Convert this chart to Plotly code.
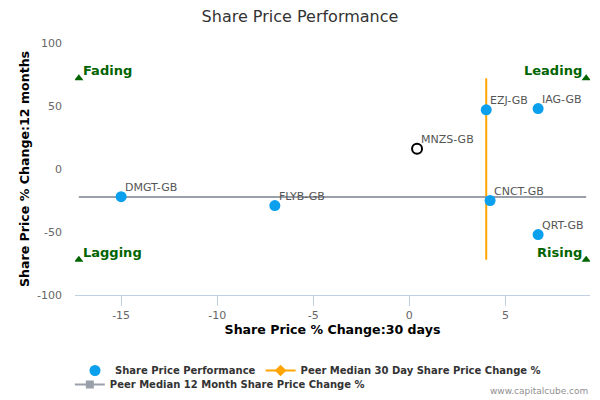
import plotly.graph_objects as go

# ==============================
# DATA
# ==============================
tickers = ["DMGT-GB", "FLYB-GB", "EZJ-GB", "IAG-GB", "CNCT-GB", "QRT-GB"]
chg_30d = [-15.0, -7.0, 4.0, 6.7, 4.2, 6.7]
chg_12m = [-22, -29, 47, 48, -25, -52]

subject = ["MNZS-GB"]
subject_30d = [0.4]
subject_12m = [16]

median_30d = 4.0
median_12m = -22.3

# quadrant corners (where the marker triangles sit)
corner_x = [-17.2, 9.2]
corner_y = [-72, 72]
quadrants = ["Lagging", "Fading", "Rising", "Leading"]

x_ticks = [-15, -10, -5, 0, 5]
y_ticks = [-100, -50, 0, 50, 100]

FONT = "DejaVu Sans"
GREEN = "#006400"

fig = go.Figure()

# peer median lines
fig.add_trace(go.Scatter(
    x=[median_30d, median_30d], y=corner_y, mode="lines",
    line=dict(color="#FFA500", width=2), showlegend=False, hoverinfo="skip"
))
fig.add_trace(go.Scatter(
    x=corner_x, y=[median_12m, median_12m], mode="lines",
    line=dict(color="#9AA0AA", width=2), showlegend=False, hoverinfo="skip"
))

# peers
fig.add_trace(go.Scatter(
    x=chg_30d, y=chg_12m, mode="markers",
    marker=dict(color="#0AA0EE", size=11),
    name="Share Price Performance"
))

# subject company
fig.add_trace(go.Scatter(
    x=subject_30d, y=subject_12m, mode="markers",
    marker=dict(color="white", size=10, line=dict(color="black", width=2)),
    showlegend=False
))

# point labels
for px_, py_, label in zip(chg_30d + subject_30d, chg_12m + subject_12m, tickers + subject):
    fig.add_annotation(
        x=px_, y=py_, text=label, showarrow=False,
        xanchor="left", yanchor="middle", xshift=2, yshift=9,
        font=dict(family=FONT, size=11, color="#555")
    )

# legend-only entries for the median lines
fig.add_trace(go.Scatter(
    x=[None], y=[None], mode="lines+markers",
    line=dict(color="#FFA500", width=2),
    marker=dict(symbol="diamond", size=9, color="#FFA500"),
    name="Peer Median 30 Day Share Price Change %"
))
fig.add_trace(go.Scatter(
    x=[None], y=[None], mode="lines+markers",
    line=dict(color="#9AA0AA", width=2),
    marker=dict(symbol="square", size=8, color="#9AA0AA"),
    name="Peer Median 12 Month Share Price Change %",
    legend="legend2"
))

# quadrant triangles
tri_x = [corner_x[0], corner_x[0], corner_x[1], corner_x[1]]
tri_y = [corner_y[0], corner_y[1], corner_y[0], corner_y[1]]
fig.add_trace(go.Scatter(
    x=tri_x, y=tri_y, mode="markers",
    marker=dict(symbol="triangle-up", size=8, color=GREEN),
    showlegend=False, hoverinfo="skip"
))

for qx, qy, label in zip(tri_x, tri_y, quadrants):
    left = qx == corner_x[0]
    fig.add_annotation(
        x=qx, y=qy, text=f"<b>{label}</b>", showarrow=False,
        xanchor="left" if left else "right", yanchor="bottom",
        xshift=2 if left else -2, yshift=-2,
        font=dict(family=FONT, size=13, color=GREEN)
    )

fig.add_annotation(
    x=1, y=0, xref="paper", yref="paper", yshift=-89, xshift=0,
    text="www.capitalcube.com", showarrow=False,
    xanchor="right", yanchor="top",
    font=dict(family=FONT, size=9, color="#909090")
)

legend_font = dict(family=FONT, size=10, color="#333", weight="bold")

fig.update_layout(
    width=600, height=400,
    margin=dict(l=75, r=10, t=43, b=105),
    paper_bgcolor="white", plot_bgcolor="white",
    font=dict(family=FONT, size=11, color="#666"),
    title=dict(
        text="Share Price Performance", x=0.5, xanchor="center",
        y=0.96, yanchor="middle",
        font=dict(family=FONT, size=16, color="#333")
    ),
    xaxis=dict(
        range=[-17.4, 9.4], showgrid=False, zeroline=False,
        tickvals=x_ticks, ticktext=[str(v) for v in x_ticks],
        showline=True, linecolor="#C0D0E0", linewidth=1,
        ticks="outside", ticklen=10, tickcolor="#C0D0E0",
        title=dict(text="<b>Share Price % Change:30 days</b>",
                   font=dict(family=FONT, size=12.6, color="black"), standoff=3),
        tickfont=dict(family=FONT, size=11, color="#666")
    ),
    yaxis=dict(
        range=[-100, 100], showgrid=False, zeroline=False,
        tickvals=y_ticks, ticktext=[str(v) for v in y_ticks],
        showline=False, ticklabelstandoff=12,
        title=dict(text="<b>Share Price % Change:12 months</b>",
                   font=dict(family=FONT, size=12.6, color="black"), standoff=4),
        tickfont=dict(family=FONT, size=11, color="#666")
    ),
    legend=dict(
        orientation="h", x=0, xanchor="left",
        yref="container", y=0.11, yanchor="top",
        font=legend_font, tracegroupgap=0, bgcolor="rgba(0,0,0,0)"
    ),
    legend2=dict(
        orientation="h", x=-0.01, xanchor="left",
        yref="container", y=0.075, yanchor="top",
        font=legend_font, bgcolor="rgba(0,0,0,0)"
    ),
    showlegend=True
)

fig.write_html("out.html", config={"displayModeBar": False},
               post_script="document.body.style.margin='0';")
